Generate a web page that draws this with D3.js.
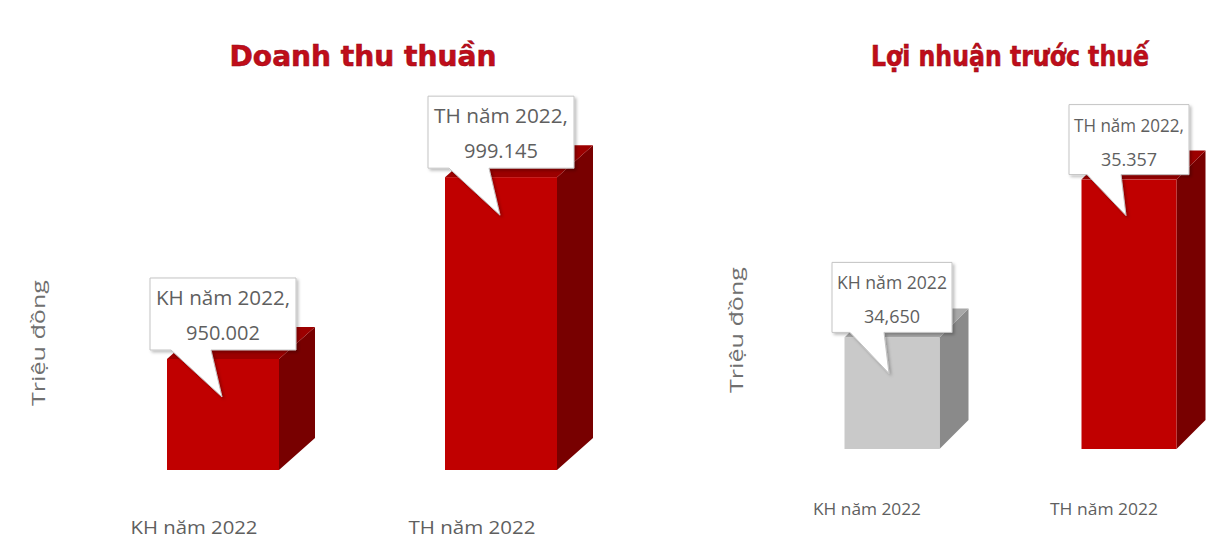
<!DOCTYPE html>
<html lang="vi">
<head>
<meta charset="utf-8">
<script src="https://cdn.jsdelivr.net/npm/d3@7"></script>
<style>
  html, body { margin: 0; padding: 0; background: #ffffff; }
  svg { display: block; }
</style>
</head>
<body>
<svg id="chart" width="1221" height="540"></svg>
<script>
// Categories shared by both panels
const categories = ["KH năm 2022", "TH năm 2022"];

// Net revenue (million VND)
const revenueValues = [950.002, 999.145];
const revenueLabels = ["950.002", "999.145"];
const revenueCallout = ["KH năm 2022,", "TH năm 2022,"];

// Profit before tax
const profitValues = [34.650, 35.357];
const profitLabels = ["34,650", "35.357"];
const profitCallout = ["KH năm 2022", "TH năm 2022,"];

const titles = ["Doanh thu thuần", "Lợi nhuận trước thuế"];
const unitLabel = "Triệu đồng";

const svg = d3.select("#chart");
const defs = svg.append("defs");
const shadow = defs.append("filter").attr("id", "calloutShadow")
  .attr("x", "-20%").attr("y", "-20%").attr("width", "140%").attr("height", "150%");
shadow.append("feDropShadow").attr("dx", 2).attr("dy", 2).attr("stdDeviation", 1.5)
  .attr("flood-color", "#000").attr("flood-opacity", 0.25);

const RED = { front: "#c00000", side: "#780000", top: "#9c0000" };
const GREY = { front: "#c9c9c9", side: "#8a8a8a", top: "#a8a8a8" };

function drawPanel(cfg) {
  const g = svg.append("g");
  const x = d3.scalePoint().domain(categories).range(cfg.xRange);
  const y = d3.scaleLinear().domain(cfg.yDomain).range(cfg.yRange);
  const w = cfg.barWidth, dx = cfg.dx, dy = cfg.dy;
  const base = y(cfg.yDomain[0]);

  // Title
  g.append("text")
    .attr("x", cfg.titleX).attr("y", 66)
    .attr("text-anchor", "middle")
    .attr("font-family", "DejaVu Sans, sans-serif")
    .attr("font-weight", "bold")
    .attr("font-size", 29)
    .attr("textLength", cfg.titleWidth).attr("lengthAdjust", "spacingAndGlyphs")
    .attr("fill", "#c00d1a")
    .attr("stroke", "#9a0a14").attr("stroke-width", 0.6)
    .text(cfg.title);

  // Unit label, rotated
  g.append("text")
    .attr("transform", `translate(${cfg.unitX},${cfg.unitY}) rotate(-90)`)
    .attr("text-anchor", "middle")
    .attr("font-family", "Open Sans, sans-serif")
    .attr("font-size", 18)
    .attr("textLength", 126).attr("lengthAdjust", "spacingAndGlyphs")
    .attr("fill", "#707070")
    .text(unitLabel);

  const data = categories.map((c, i) => ({
    cat: c, value: cfg.values[i], label: cfg.labels[i],
    head: cfg.heads[i], colors: cfg.colors[i]
  }));

  const bars = g.selectAll("g.bar").data(data).join("g").attr("class", "bar");

  // Side face
  bars.append("polygon")
    .attr("points", d => {
      const xr = x(d.cat) + w / 2, yt = y(d.value);
      return [[xr, yt], [xr + dx, yt - dy], [xr + dx, base - dy], [xr, base]].join(" ");
    })
    .attr("fill", d => d.colors.side);

  // Top face
  bars.append("polygon")
    .attr("points", d => {
      const xl = x(d.cat) - w / 2, xr = x(d.cat) + w / 2, yt = y(d.value);
      return [[xl, yt], [xl + dx, yt - dy], [xr + dx, yt - dy], [xr, yt]].join(" ");
    })
    .attr("fill", d => d.colors.top);

  // Front face
  bars.append("rect")
    .attr("x", d => x(d.cat) - w / 2)
    .attr("y", d => y(d.value))
    .attr("width", w)
    .attr("height", d => base - y(d.value))
    .attr("fill", d => d.colors.front);

  // Callouts with pointer
  const cw = cfg.calloutWidth, ch = cfg.calloutHeight;
  const callouts = bars.append("g").attr("filter", "url(#calloutShadow)");
  callouts.append("path")
    .attr("d", d => {
      const cx = x(d.cat), yt = y(d.value);
      const bottom = yt - cfg.calloutGap, top = bottom - ch;
      const l = cx - cw / 2, r = cx + cw / 2;
      const p1 = cx + cfg.pointer[0], p2 = cx + cfg.pointer[1];
      const tipX = cx + cfg.pointer[2], tipY = yt + cfg.pointer[3];
      return `M${l},${top}H${r}V${bottom}H${p2}L${tipX},${tipY}L${p1},${bottom}H${l}Z`;
    })
    .attr("fill", "#ffffff")
    .attr("stroke", "#c4c4c4")
    .attr("stroke-width", 1);

  const txt = bars.append("text")
    .attr("text-anchor", "middle")
    .attr("font-family", "Open Sans, sans-serif")
    .attr("font-size", cfg.calloutFont)
    .attr("fill", "#5f5f5f");
  txt.append("tspan")
    .attr("x", d => x(d.cat))
    .attr("y", d => y(d.value) - cfg.calloutGap - ch + cfg.line1)
    .attr("textLength", cfg.line1Width).attr("lengthAdjust", "spacingAndGlyphs")
    .text(d => d.head);
  txt.append("tspan")
    .attr("x", d => x(d.cat))
    .attr("y", d => y(d.value) - cfg.calloutGap - ch + cfg.line2)
    .text(d => d.label);

  // Category labels
  g.selectAll("text.cat").data(categories).join("text")
    .attr("class", "cat")
    .attr("x", d => x(d) + cfg.catOffset)
    .attr("y", cfg.catY)
    .attr("text-anchor", "middle")
    .attr("font-family", "Open Sans, sans-serif")
    .attr("font-size", cfg.catFont)
    .attr("textLength", cfg.catWidth).attr("lengthAdjust", "spacingAndGlyphs")
    .attr("fill", "#5f5f5f")
    .text(d => d);
}

drawPanel({
  title: titles[0], titleX: 363, titleWidth: 267,
  unitX: 45, unitY: 343,
  values: revenueValues, labels: revenueLabels, heads: revenueCallout,
  colors: [RED, RED],
  xRange: [223, 501], yDomain: [920, 1000], yRange: [470, 174],
  barWidth: 112, dx: 36, dy: 32,
  calloutWidth: 146, calloutHeight: 72, calloutGap: 9,
  pointer: [-52, -12, -1, 38],
  calloutFont: 20, line1: 27, line2: 62, line1Width: 134,
  catOffset: -29, catY: 534, catFont: 18, catWidth: 127
});

drawPanel({
  title: titles[1], titleX: 1010, titleWidth: 278,
  unitX: 743, unitY: 330,
  values: profitValues, labels: profitLabels, heads: profitCallout,
  colors: [GREY, RED],
  xRange: [892, 1129], yDomain: [34.15, 35.4], yRange: [449, 170],
  barWidth: 95, dx: 29, dy: 29,
  calloutWidth: 120, calloutHeight: 70, calloutGap: 5,
  pointer: [-42, -8, -3, 36],
  calloutFont: 18, line1: 27, line2: 61, line1Width: 110,
  catOffset: -25, catY: 515, catFont: 17, catWidth: 108
});
</script>
</body>
</html>
